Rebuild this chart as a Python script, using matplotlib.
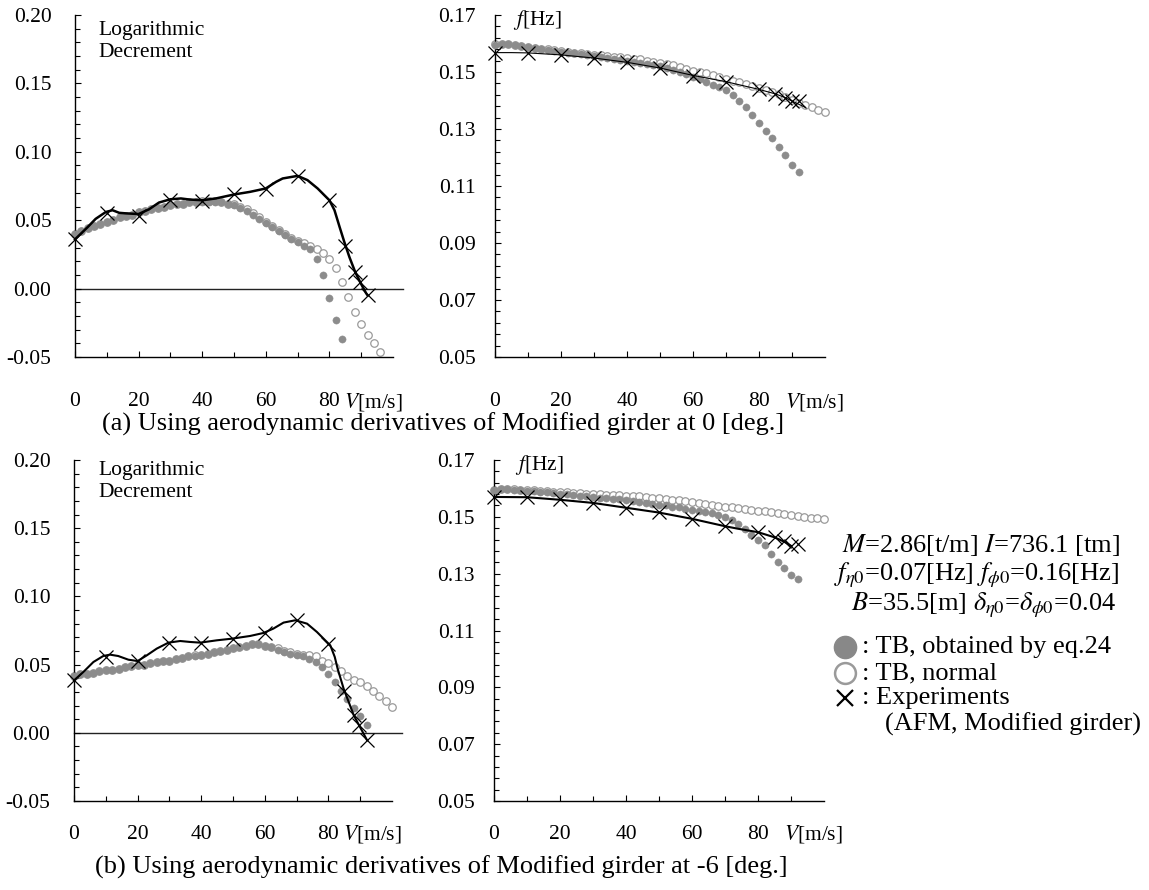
import matplotlib
matplotlib.use("Agg")
import matplotlib.pyplot as plt
from matplotlib.ticker import MultipleLocator, FixedLocator
from matplotlib.lines import Line2D

plt.rcParams['font.family'] = ['Liberation Serif', 'DejaVu Serif']
plt.rcParams['mathtext.fontset'] = 'stix'
plt.rcParams['axes.unicode_minus'] = False

W, H = 1149, 890

# wind speeds of the computed points (every 2 m/s)
speeds = [0, 2, 4, 6, 8, 10, 12, 14, 16, 18, 20, 22, 24, 26, 28, 30, 32, 34, 36, 38,
          40, 42, 44, 46, 48, 50, 52, 54, 56, 58, 60, 62, 64, 66, 68, 70, 72, 74, 76, 78,
          80, 82, 84, 86, 88, 90, 92, 94, 96, 98, 100]

# experiments (AFM, modified girder)
exp_v = [0, 10, 20, 30, 40, 50, 60, 70, 80, 85, 88, 89.5, 92]
exp_v_f = [0, 10, 20, 30, 40, 50, 60, 70, 80, 85, 88, 90, 92]

# ---- (a) 0 deg ----
a_damp_eq24 = [.040, .042, .044, .046, .047, .049, .050, .052, .053, .054,
               .056, .057, .058, .059, .060, .061, .062, .062, .063, .063,
               .063, .063, .063, .063, .062, .061, .059, .057, .054, .051,
               .048, .045, .042, .039, .036, .034, .031, .029, .022, .010,
               -.007, -.023, -.037]
a_damp_normal = [.040, .042, .044, .046, .047, .049, .050, .052, .053, .054,
                 .056, .057, .058, .059, .060, .061, .062, .062, .063, .063,
                 .064, .064, .064, .063, .062, .062, .060, .058, .055, .052,
                 .049, .046, .043, .040, .037, .035, .033, .031, .029, .026,
                 .022, .015, .005, -.006, -.017, -.026, -.034, -.040, -.046]
a_damp_exp = [0.036, 0.0555, 0.053, 0.065, 0.064, 0.069, 0.0727, 0.0824, 0.0646,
              0.031, 0.012, 0.005, -0.005]
a_damp_curve_v = [0, 4, 6.5, 9.7, 11.8, 13.9, 16, 20, 23.3, 26.4, 30, 33.3, 36, 40, 44.3,
                  50, 55, 60, 63.2, 65.3, 70, 73.1, 76.3, 78.4, 80, 81.6, 83.2, 84.7,
                  86.3, 88.1, 89.9, 91.5, 92]
a_damp_curve = [0.036, 0.045, 0.051, 0.056, 0.0573, 0.0554, 0.055, 0.0545, 0.058, 0.0629,
                0.0653, 0.0659, 0.0651, 0.0646, 0.0659, 0.0688, 0.0707, 0.0732, 0.078,
                0.0805, 0.0824, 0.0793, 0.0732, 0.0683, 0.0646, 0.0573, 0.0451, 0.034,
                0.023, 0.0122, 0.0037, -0.0032, -0.0049]

a_freq_eq24 = [.1596, .1598, .1597, .1594, .1590, .1586, .1583, .1580, .1577, .1574,
               .1571, .1568, .1565, .1562, .1558, .1555, .1552, .1549, .1546, .1542,
               .1538, .1535, .1532, .1528, .1524, .1520, .1514, .1508, .1501, .1493,
               .1484, .1475, .1465, .1455, .1446, .1437, .1419, .1399, .1376, .1349,
               .1320, .1294, .1270, .1237, .1208, .1175, .1149]
a_freq_normal = [.1598, .1600, .1598, .1595, .1592, .1588, .1585, .1582, .1579, .1576,
                 .1573, .1570, .1568, .1565, .1562, .1560, .1558, .1556, .1554, .1551,
                 .1549, .1547, .1544, .1540, .1536, .1533, .1529, .1524, .1517, .1510,
                 .1505, .1499, .1495, .1490, .1481, .1475, .1469, .1464, .1457, .1451,
                 .1445, .1437, .1431, .1422, .1413, .1403, .1392, .1384, .1376, .1368,
                 .1360]
a_freq_exp = [.1568, .1568, .1560, .1550, .1534, .1513, .1487, .1466, .1439, .1423,
              .1410, .1398, .1400]
a_freq_curve_v = [0, 5, 10, 20, 30, 40, 50, 60, 70, 80, 85, 88, 90, 94]
a_freq_curve = [.1568, .1568, .1567, .1560, .1549, .1534, .1514, .1488, .1466, .1439,
                .1423, .1410, .1398, .1376]

# ---- (b) -6 deg ----
b_damp_eq24 = [.042, .043, .043, .044, .045, .046, .046, .047, .048, .049,
               .050, .050, .051, .052, .053, .053, .054, .055, .056, .056,
               .057, .058, .059, .060, .061, .062, .063, .064, .065, .065,
               .064, .063, .061, .059, .058, .057, .056, .054, .052, .048,
               .043, .037, .031, .025, .018, .012, .006]
b_damp_normal = [.042, .043, .043, .044, .045, .046, .046, .047, .048, .049,
                 .050, .050, .051, .052, .053, .053, .054, .055, .056, .057,
                 .057, .058, .059, .060, .061, .062, .063, .064, .065, .065,
                 .064, .063, .062, .060, .059, .058, .057, .057, .056, .053,
                 .051, .048, .045, .042, .039, .037, .034, .031, .027, .023,
                 .019]
b_damp_exp = [.0384, .0556, .0526, .0661, .0661, .069, .0732, .0825, .0649, .0306,
              .0127, .006, -.0056]
b_damp_curve_v = [0, 2.9, 6.1, 9.2, 11.3, 13.9, 17.1, 20, 22.9, 26, 29.7, 33.4, 36.5,
                  39.7, 44.9, 49.6, 55.4, 59.6, 62.7, 65.9, 69.6, 73.3, 76.4, 79, 80.6,
                  82, 82.9, 84.8, 88, 91.1, 92.1]
b_damp_curve = [.0384, .0445, .0519, .0563, .0573, .0563, .0536, .0526, .0568, .0617,
                .0661, .0673, .0666, .0661, .0678, .069, .071, .0732, .0764, .0808,
                .0825, .080, .0739, .0678, .0641, .0556, .047, .0323, .0127, -.0008,
                -.0052]

b_freq_eq24 = [.1595, .1597, .1597, .1596, .1594, .1592, .1590, .1588, .1586, .1584,
               .1582, .1580, .1577, .1575, .1573, .1570, .1568, .1566, .1563, .1561,
               .1558, .1555, .1552, .1549, .1546, .1543, .1540, .1536, .1533, .1529,
               .1525, .1521, .1517, .1512, .1506, .1499, .1490, .1475, .1456, .1436,
               .1418, .1400, .1370, .1342, .1319, .1297, .1280]
b_freq_normal = [.1596, .1598, .1598, .1597, .1596, .1594, .1593, .1592, .1590, .1589,
                 .1587, .1586, .1584, .1583, .1582, .1580, .1579, .1578, .1577, .1576,
                 .1575, .1574, .1572, .1570, .1568, .1566, .1563, .1560, .1558, .1555,
                 .1553, .1550, .1546, .1542, .1539, .1536, .1533, .1530, .1527, .1524,
                 .1522, .1519, .1516, .1513, .1510, .1506, .1504, .1500, .1497, .1495,
                 .1493]
b_freq_exp = [.1570, .1570, .1562, .1550, .1532, .1518, .1494, .1468, .1446, .1429,
              .1414, .1399, .1403]
b_freq_curve_v = [0, 10, 20, 30, 40, 50, 60, 70, 74, 80, 85, 88, 90]
b_freq_curve = [.1570, .1569, .1560, .1549, .1532, .1515, .1493, .1467, .1458, .1446,
                .1428, .1412, .1398]

damp_ticks = [-0.05, 0.0, 0.05, 0.10, 0.15, 0.20]
damp_labels = ['-0.05', '0.00', '0.05', '0.10', '0.15', '0.20']
freq_ticks = [0.05, 0.07, 0.09, 0.11, 0.13, 0.15, 0.17]
freq_labels = ['0.05', '0.07', '0.09', '0.11', '0.13', '0.15', '0.17']
freq_minor = [0.05 + 0.004 * k for k in range(31)]
v_ticks = [0, 20, 40, 60, 80]
v_labels = ['0', '20', '40', '60', '80']
v_minor = [10, 30, 50, 70, 90]

FILL = '#8c8c8c'
OPEN = '#9a9a9a'
TS = 15.5

fig = plt.figure(figsize=(W / 100, H / 100), dpi=100)


def box(left, top, right, bottom):
    return [left / W, 1 - bottom / H, (right - left) / W, (bottom - top) / H]


def style(ax, kind, xpad, vx):
    for s in ['top', 'right']:
        ax.spines[s].set_visible(False)
    for s in ['left', 'bottom']:
        ax.spines[s].set_linewidth(1.0)
    ax.set_xlim(0, 100)
    ax.set_xticks(v_ticks)
    ax.set_xticklabels(v_labels)
    ax.xaxis.set_minor_locator(FixedLocator(v_minor))
    if kind == 'damp':
        ax.set_ylim(-0.05, 0.20)
        ax.set_yticks(damp_ticks)
        ax.set_yticklabels(damp_labels)
        ax.yaxis.set_minor_locator(MultipleLocator(0.01))
        ypad = 17
    else:
        ax.set_ylim(0.05, 0.17)
        ax.set_yticks(freq_ticks)
        ax.set_yticklabels(freq_labels)
        ax.yaxis.set_minor_locator(FixedLocator(freq_minor))
        ypad = 14
    ax.tick_params(which='both', direction='in', width=0.8, labelsize=TS)
    ax.tick_params(which='major', length=4.5)
    ax.tick_params(which='minor', length=3.8)
    ax.tick_params(axis='x', which='both', pad=xpad)
    ax.tick_params(axis='y', which='both', pad=ypad)
    ax.annotate(r'$V$[m/s]', xy=(vx, 0), xycoords=('data', 'axes fraction'),
                xytext=(0, -xpad + 1), textcoords='offset points',
                ha='left', va='top', fontsize=TS)


def draw(ax, v_line, y_line, y_exp, ve, y_eq, y_norm, lw):
    ax.plot(speeds[:len(y_norm)], y_norm, 'o', ms=5.4, mfc='white', mec=OPEN,
            mew=0.9, clip_on=False, zorder=2)
    ax.plot(speeds[:len(y_eq)], y_eq, 'o', ms=5.2, mfc=FILL, mec=FILL, mew=0.3,
            clip_on=False, zorder=3)
    ax.plot(v_line, y_line, '-', color='black', lw=lw, zorder=4, clip_on=False)
    ax.plot(ve, y_exp, 'x', ms=9.5, mew=0.9, color='black', zorder=5, clip_on=False)


ax1 = fig.add_axes(box(75, 15, 393, 357))
ax2 = fig.add_axes(box(495, 15, 825, 357))
ax3 = fig.add_axes(box(74, 460, 392, 801))
ax4 = fig.add_axes(box(494, 460, 824, 801))

style(ax1, 'damp', 25.5, 84.5)
style(ax2, 'freq', 25.5, 88)
style(ax3, 'damp', 17, 84.5)
style(ax4, 'freq', 17, 88)

for ax in (ax1, ax3):
    ax.plot([0, 103], [0, 0], color='#222222', lw=1.0, clip_on=False, zorder=1)

draw(ax1, a_damp_curve_v, a_damp_curve, a_damp_exp, exp_v, a_damp_eq24, a_damp_normal, 1.8)
draw(ax2, a_freq_curve_v, a_freq_curve, a_freq_exp, exp_v_f, a_freq_eq24, a_freq_normal, 0.8)
draw(ax3, b_damp_curve_v, b_damp_curve, b_damp_exp, exp_v, b_damp_eq24, b_damp_normal, 1.5)
draw(ax4, b_freq_curve_v, b_freq_curve, b_freq_exp, exp_v_f, b_freq_eq24, b_freq_normal, 1.5)


def ftext(x, y, s, **kw):
    fig.text(x / W, 1 - y / H, s, **kw)


# in-panel labels
ftext(98, 35, 'Logarithmic', fontsize=TS, va='baseline')
ftext(98, 57, 'Decrement', fontsize=TS, va='baseline')
ftext(98, 475, 'Logarithmic', fontsize=TS, va='baseline')
ftext(98, 497, 'Decrement', fontsize=TS, va='baseline')
ftext(513, 25, r'$f$[Hz]', fontsize=TS, va='baseline')
ftext(515, 470, r'$f$[Hz]', fontsize=TS, va='baseline')

# captions
ftext(443, 424, '(a) Using aerodynamic derivatives of Modified girder at 0 [deg.]',
      fontsize=19, ha='center', va='center')
ftext(441, 867, '(b) Using aerodynamic derivatives of Modified girder at -6 [deg.]',
      fontsize=19, ha='center', va='center')

# parameters
ftext(981, 545, r'$M$=2.86[t/m] $I$=736.1 [tm]', fontsize=19, ha='center', va='center')
ftext(976, 575, r'$f_{\eta0}$=0.07[Hz] $f_{\phi0}$=0.16[Hz]', fontsize=19, ha='center', va='center')
ftext(983, 605, r'$B$=35.5[m] $\delta_{\eta0}$=$\delta_{\phi0}$=0.04', fontsize=19, ha='center', va='center')

# legend
fig.add_artist(Line2D([845 / W], [1 - 647 / H], marker='o', ms=16, mfc='#888888', mec='#888888',
                      transform=fig.transFigure))
fig.add_artist(Line2D([845 / W], [1 - 673 / H], marker='o', ms=15, mfc='white', mec=OPEN,
                      mew=1.8, transform=fig.transFigure))
fig.add_artist(Line2D([845 / W], [1 - 698 / H], marker='x', ms=12, mew=1.6, color='black',
                      transform=fig.transFigure))
ftext(862, 647, ': TB, obtained by eq.24', fontsize=19, va='center')
ftext(862, 673, ': TB, normal', fontsize=19, va='center')
ftext(862, 698, ': Experiments', fontsize=19, va='center')
ftext(885, 724, '(AFM, Modified girder)', fontsize=19, va='center')

fig.savefig('out.png', dpi=100)
